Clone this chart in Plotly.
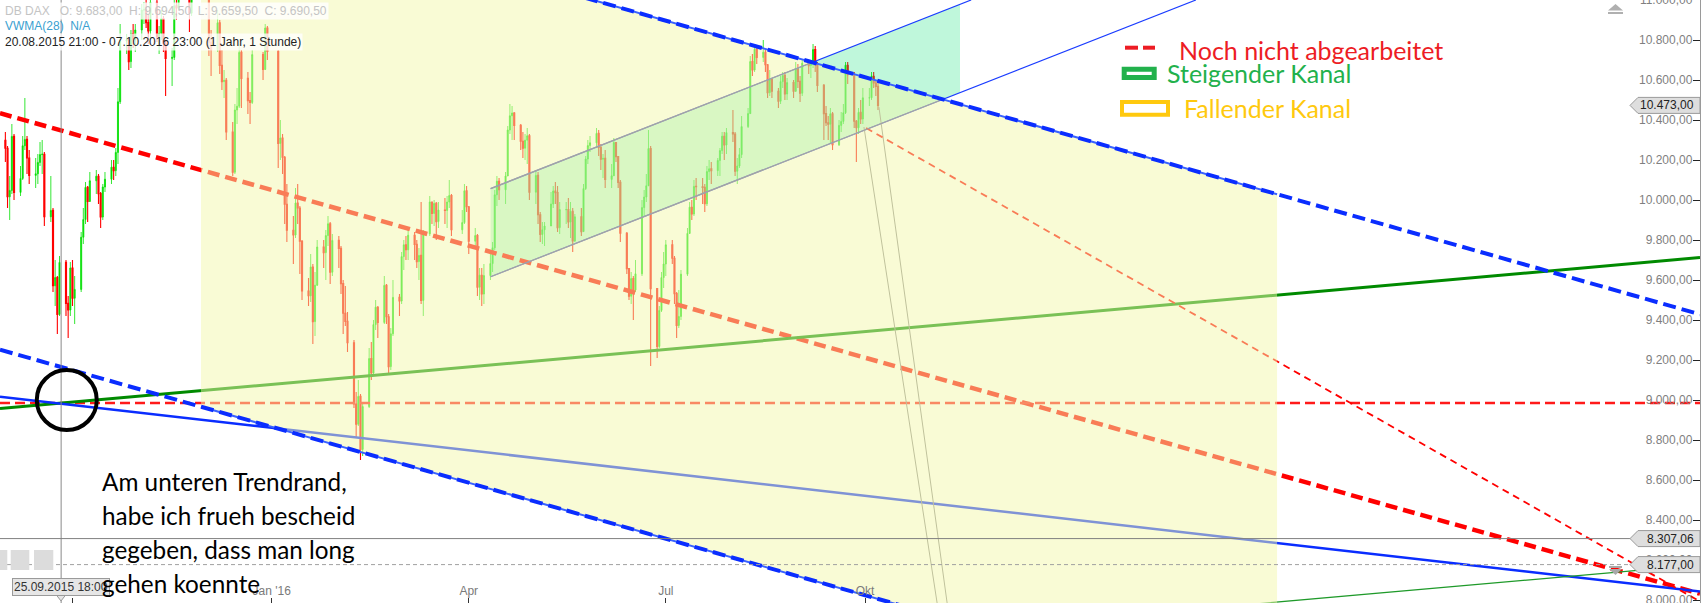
import plotly.graph_objects as go
import pandas as pd

# ------------------------------------------------------------------
# DATA  (daily bars of the DB DAX)
# ------------------------------------------------------------------
market_holidays = ["2015-12-24", "2015-12-25", "2015-12-31", "2016-01-01", "2016-03-25", "2016-03-28"]
first_open = 10200

close = [
    10298, 10259,
    10016, 10048, 10318, 10038, 10108, 10271, 10303, 10210, 10123, 10131, 10188, 10227, 10229, 9916, 9948, 9571, 9612, 9428, 9688, 9483, 9450, 9660,
    9509, 9553, 9814, 9902, 10063, 9993, 10096, 10119, 10032, 9915, 10065, 10104, 10164, 10147, 10238, 10491, 10795, 10801, 10692, 10832, 10801, 10850,
    10950, 10951, 10887, 10845, 10988, 10815, 10833, 10907, 10783, 10708, 10713, 10971, 10960, 11085, 11119, 11092, 10934, 11169, 11284, 11293, 11382,
    11261, 11190, 10789, 10752, 10886, 10673, 10592, 10598, 10340, 10139, 10450, 10469, 10738, 10608, 10497, 10488, 10727, 10653, 10860, 10743,
    10283, 10310, 10214, 9979, 9849, 9825, 9985, 9960, 9794, 9545, 9521, 9665, 9392, 9574, 9765, 9737, 9822, 9881, 9639, 9798,
    9758, 9582, 9434, 9393, 9286, 8980, 8879, 9018, 8753, 8967, 9207, 9135, 9377, 9464, 9388, 9573, 9416, 9167, 9331, 9513, 9495,
    9717, 9776, 9751, 9824, 9778, 9692, 9723, 9498, 9831, 9990, 9933, 9983, 9892, 9950, 9948, 9990, 10022, 9851, 9887, 10046, 9966,
    9794, 9822, 9564, 9624, 9530, 9622, 9682, 9761, 10026, 10094, 10051, 10120, 10350, 10421, 10435, 10373, 10294, 10259, 10299, 10321, 10039,
    10123, 9926, 9828, 9851, 9870, 9980, 10045, 10037, 9862, 9952, 9952, 9890, 9943, 9795, 9916, 9842, 10057, 10205, 10272, 10286, 10333, 10263,
    10204, 10208, 10103, 10121, 10287, 10217, 10088, 9834, 9657, 9519, 9607, 9550, 9631, 9962, 10015, 10071, 10257, 9557, 9268, 9448, 9612, 9680,
    9776, 9709, 9532, 9373, 9418, 9629, 9833, 9964, 9930, 10068, 10066, 10063, 9981, 10142, 10156, 10147, 10198, 10247, 10319, 10275, 10337,
    10330, 10144, 10170, 10227, 10367, 10432, 10692, 10650, 10754, 10713, 10739, 10676, 10537, 10603, 10544, 10494, 10592, 10623, 10530, 10587, 10544, 10657, 10593,
    10534, 10684, 10672, 10687, 10752, 10675, 10573, 10432, 10386, 10379, 10431, 10276, 10373, 10393, 10436, 10674, 10626, 10394, 10361, 10438, 10405, 10511,
    10511, 10619, 10585, 10568, 10473,
]
high = [
    10330, 10340,
    10270, 10120, 10380, 10330, 10170, 10320, 10510, 10320, 10250, 10210, 10230, 10290, 10300, 10240, 10120, 9960, 9700, 9620, 9720, 9700, 9520, 9690,
    9700, 9620, 9840, 9960, 10090, 10070, 10140, 10150, 10130, 10040, 10080, 10140, 10200, 10200, 10260, 10560, 10880, 10830, 10810, 10850, 10880, 10880,
    10980, 10990, 11020, 10930, 11060, 11000, 10870, 10950, 10920, 10800, 10760, 11000, 11000, 11120, 11150, 11140, 11100, 11200, 11300, 11320, 11400,
    11430, 11300, 11230, 10850, 10950, 10900, 10750, 10650, 10610, 10390, 10480, 10560, 10780, 10750, 10640, 10540, 10750, 10740, 10880, 10870,
    10750, 10400, 10330, 10220, 10080, 9920, 10060, 10080, 9970, 9800, 9610, 9730, 9680, 9640, 9800, 9800, 9850, 9920, 9890, 9830,
    9820, 9770, 9600, 9570, 9440, 9300, 9040, 9100, 9030, 8990, 9260, 9290, 9400, 9500, 9470, 9620, 9580, 9430, 9360, 9600, 9530,
    9740, 9800, 9820, 9850, 9840, 9800, 9760, 9990, 9850, 10020, 9990, 10000, 9990, 9990, 10010, 10020, 10100, 10030, 9950, 10080, 10070,
    9970, 9860, 9830, 9660, 9660, 9680, 9750, 9790, 10050, 10120, 10110, 10140, 10370, 10480, 10470, 10440, 10380, 10340, 10330, 10360, 10330,
    10150, 10140, 9940, 9890, 9890, 10040, 10070, 10090, 10070, 9990, 9990, 10010, 9990, 9960, 9930, 9960, 10080, 10220, 10300, 10320, 10360, 10350,
    10280, 10230, 10250, 10180, 10310, 10290, 10220, 10100, 9840, 9660, 9640, 9620, 9700, 10000, 10050, 10130, 10350, 10270, 9560, 9470, 9640, 9740,
    9800, 9800, 9720, 9540, 9550, 9650, 9860, 9990, 10000, 10100, 10110, 10110, 10080, 10170, 10200, 10190, 10210, 10260, 10340, 10340, 10360,
    10450, 10340, 10210, 10260, 10420, 10460, 10720, 10730, 10770, 10770, 10800, 10750, 10680, 10650, 10610, 10560, 10620, 10640, 10640, 10610, 10600, 10690, 10680,
    10620, 10700, 10700, 10700, 10780, 10770, 10690, 10580, 10470, 10420, 10460, 10440, 10400, 10440, 10480, 10690, 10690, 10640, 10400, 10460, 10500, 10560,
    10560, 10640, 10640, 10600, 10600,
]
low = [
    10120, 10190,
    9960, 9900, 10030, 10000, 10020, 10100, 10250, 10130, 10080, 10060, 10080, 10170, 10130, 9870, 9890, 9540, 9470, 9330, 9420, 9420, 9310, 9420,
    9470, 9380, 9540, 9780, 9880, 9890, 9990, 10030, 9980, 9860, 9900, 10040, 10080, 10100, 10120, 10180, 10480, 10730, 10650, 10660, 10760, 10740,
    10800, 10880, 10860, 10780, 10800, 10790, 10730, 10800, 10740, 10520, 10570, 10700, 10900, 10950, 11050, 11040, 10840, 10920, 11150, 11230, 11260,
    11220, 11120, 10720, 10620, 10740, 10630, 10550, 10510, 10300, 10120, 10130, 10380, 10460, 10460, 10430, 10380, 10480, 10600, 10650, 10700,
    10160, 10200, 10130, 9880, 9790, 9680, 9810, 9880, 9630, 9500, 9470, 9490, 9280, 9320, 9570, 9660, 9600, 9770, 9580, 9620,
    9660, 9530, 9330, 9370, 9240, 8960, 8810, 8870, 8700, 8720, 8960, 9100, 9120, 9350, 9310, 9380, 9380, 9130, 9150, 9320, 9420,
    9480, 9650, 9700, 9700, 9700, 9660, 9600, 9480, 9420, 9820, 9880, 9870, 9800, 9860, 9880, 9860, 9960, 9820, 9830, 9880, 9940,
    9730, 9760, 9520, 9500, 9470, 9480, 9600, 9640, 9750, 9970, 10000, 9980, 10120, 10330, 10300, 10300, 10250, 10210, 10200, 10180, 10000,
    9980, 9880, 9790, 9780, 9770, 9870, 9960, 9980, 9840, 9830, 9880, 9860, 9810, 9740, 9790, 9820, 9840, 10050, 10180, 10240, 10260, 10220,
    10150, 10110, 10060, 10060, 10120, 10190, 10060, 9790, 9630, 9500, 9480, 9400, 9540, 9620, 9920, 9990, 10070, 9170, 9210, 9260, 9440, 9560,
    9620, 9680, 9480, 9310, 9360, 9400, 9620, 9830, 9900, 9920, 10000, 9980, 9940, 9970, 10100, 10080, 10120, 10120, 10230, 10200, 10230,
    10290, 10120, 10080, 10160, 10210, 10360, 10430, 10620, 10640, 10680, 10690, 10640, 10510, 10520, 10510, 10460, 10480, 10560, 10500, 10500, 10510, 10540, 10560,
    10490, 10520, 10630, 10610, 10660, 10640, 10540, 10300, 10370, 10300, 10280, 10250, 10270, 10340, 10380, 10430, 10580, 10360, 10190, 10330, 10380, 10380,
    10470, 10500, 10560, 10520, 10450,
]

# drawn objects (date, value) anchors
falling_upper = [("2016-01-01", 11456), ("2017-01-01", 10331)]
falling_lower = [("2016-01-01", 8866), ("2017-01-01", 7741)]
fall_span = ["2015-11-29 08:00", "2017-04-09 07:00"]
support_green = [("2016-01-01", 9078), ("2017-01-01", 9430)]
support_green_thin = [("2017-03-04", 7955), ("2017-10-22", 8176)]
blue_solid = [("2016-01-01", 8861), ("2017-01-01", 8407)]
red_trend = [("2016-01-01", 10050), ("2017-01-01", 8930)]
red_level = 8985
red_target = [("2016-10-01 12:00", 10360), ("2017-10-22 00:00", 7990)]
gray_a = [("2016-09-30 12:00", 10365), ("2016-11-03 07:00", 7985)]
gray_b = [("2016-10-07 10:00", 10465), ("2016-11-07 22:00", 7985)]
rise_upper = [("2016-04-11 02:00", 10057), ("2016-11-19 00:00", 11000)]
rise_lower = [("2016-04-11 02:00", 9616), ("2017-03-02 19:00", 11000)]
rise_span = ["2016-04-11 02:00", "2016-11-13 21:00"]
rise_upper_gray_end = "2016-09-06 17:00"
rise_lower_gray_end = "2016-11-06 00:00"
circle_box = [("2015-09-14 12:00", 8850), ("2015-10-12 05:00", 9150)]
crosshair = "2015-09-25 18:00"
level_solid = 8307.06
level_dashed = 8177.00
last_price = 10473.00

x_range = ["2015-08-28 12:30", "2017-10-21 14:30"]
y_range = [7985, 11000]
x_tickvals = ["2015-10-01", "2016-01-01", "2016-04-01", "2016-07-01", "2016-10-01"]
x_ticktext = ["Okt", "Jan '16", "Apr", "Jul", "Okt"]

header_1 = "DB DAX\u00a0\u00a0\u00a0O: 9.683,00\u00a0\u00a0H: 9.694,50\u00a0\u00a0L: 9.659,50\u00a0\u00a0C: 9.690,50"
header_2 = "VWMA(28)\u00a0\u00a0N/A"
header_3 = "20.08.2015 21:00 - 07.10.2016 23:00 (1 Jahr, 1 Stunde)"
note_lines = ["Am unteren Trendrand,", "habe ich frueh bescheid", "gegeben, dass man long", "gehen koennte"]
legend_items = ["Noch nicht abgearbeitet", "Steigender Kanal", "Fallender Kanal"]

# ------------------------------------------------------------------
W, H, MR = 1702, 603, 2
PW = W - MR


def px(x):
    return x / PW


def py(y):
    return 1 - y / H


def de(v):
    s = f"{v:,.2f}"
    return s.replace(",", "X").replace(".", ",").replace("X", ".")


dates = pd.bdate_range("2015-08-28", "2016-10-07")
dates = dates[~dates.isin(pd.to_datetime(market_holidays))]
assert len(dates) == len(close) == len(high) == len(low), (len(dates), len(close), len(high), len(low))
open_ = [first_open] + close[:-1]


def line_xy(anchors, start, end):
    (d0, v0), (d1, v1) = anchors
    t0, t1 = pd.Timestamp(d0), pd.Timestamp(d1)
    k = (v1 - v0) / (t1 - t0).total_seconds()
    ts = [pd.Timestamp(start), pd.Timestamp(end)]
    return ts, [v0 + k * (t - t0).total_seconds() for t in ts]


fig = go.Figure()
fig.add_trace(go.Candlestick(
    x=dates, open=open_, high=high, low=low, close=close,
    increasing=dict(line=dict(color="#00e000", width=0.8), fillcolor="#00e000"),
    decreasing=dict(line=dict(color="#ff0000", width=1.1), fillcolor="#ff0000"),
    whiskerwidth=0, hoverinfo="skip", showlegend=False))


def add_line(anchors, start, end, color, width, dash=None):
    xs, ys = line_xy(anchors, start, end)
    fig.add_trace(go.Scatter(x=xs, y=ys, mode="lines", line=dict(color=color, width=width, dash=dash),
                             hoverinfo="skip", showlegend=False))


def add_poly(upper, lower, span, color):
    xu, yu = line_xy(upper, span[0], span[1])
    xl, yl = line_xy(lower, span[0], span[1])
    fig.add_trace(go.Scatter(x=xu + xl[::-1] + [xu[0]], y=yu + yl[::-1] + [yu[0]], mode="lines",
                             fill="toself", fillcolor=color, line=dict(width=0),
                             hoverinfo="skip", showlegend=False))


X0, X1 = x_range
# rising channel fill (below the yellow band)
add_poly(rise_upper, rise_lower, rise_span, "rgba(0,225,110,0.25)")
# lines under the band
add_line(red_trend, X0, X1, "#ff0000", 4.5, "12px,6px")
add_line([(X0, red_level), (X1, red_level)], X0, X1, "#ff1a1a", 2.5, "10px,5px")
add_line(support_green, X0, X1, "#008a00", 3)
add_line(blue_solid, X0, X1, "#0a2dff", 2.5)
add_line(rise_upper, rise_upper[0][0], rise_upper[1][0], "#1a3cff", 1.2)
add_line(rise_lower, rise_lower[0][0], rise_lower[1][0], "#1a3cff", 1.2)
add_line(gray_a, gray_a[0][0], gray_a[1][0], "#8c8c8c", 1)
add_line(gray_b, gray_b[0][0], gray_b[1][0], "#8c8c8c", 1)
add_line(red_target, red_target[0][0], red_target[1][0], "#ff0000", 1.8, "7px,5px")
add_line(support_green_thin, support_green_thin[0][0], support_green_thin[1][0], "#1f9a2a", 1.2)
# falling channel band
add_poly(falling_upper, falling_lower, fall_span, "rgba(243,247,171,0.5)")
# over the band
add_line(rise_upper, rise_upper[0][0], rise_upper_gray_end, "#a3a3a3", 1.2)
add_line(rise_lower, rise_lower[0][0], rise_lower_gray_end, "#a3a3a3", 1.2)
add_line(falling_upper, fall_span[0], fall_span[1], "#3a62ff", 2)
add_line(falling_lower, fall_span[0], fall_span[1], "#3a62ff", 2)
add_line(falling_upper, X0, X1, "#0a2dff", 4, "13px,6px")
add_line(falling_lower, X0, X1, "#0a2dff", 4, "13px,6px")

shapes = []
# crosshair
shapes.append(dict(type="line", xref="x", yref="paper", x0=crosshair, x1=crosshair, y0=0, y1=1,
                   line=dict(color="#8a8a8a", width=1)))
# price levels
shapes.append(dict(type="line", xref="paper", yref="y", x0=0, x1=1, y0=level_solid, y1=level_solid,
                   line=dict(color="#808080", width=1)))
shapes.append(dict(type="line", xref="paper", yref="y", x0=0, x1=1, y0=level_dashed, y1=level_dashed,
                   line=dict(color="#a0a0a0", width=1, dash="4px,3px")))
# circle
shapes.append(dict(type="circle", xref="x", yref="y", x0=circle_box[0][0], x1=circle_box[1][0],
                   y0=circle_box[0][1], y1=circle_box[1][1], line=dict(color="#000000", width=4)))
# price label boxes
for v in [last_price, level_solid, level_dashed]:
    path = (f"M {px(1630)},{v} L {px(1638)},{v + 40} L {px(1700)},{v + 40} "
            f"L {px(1700)},{v - 40} L {px(1638)},{v - 40} Z")
    shapes.append(dict(type="path", xref="paper", yref="y", path=path,
                       fillcolor="#dedede", line=dict(color="#9a9a9a", width=1)))
# legend icons
shapes.append(dict(type="line", xref="paper", yref="paper", x0=px(1125), x1=px(1138), y0=py(47.7), y1=py(47.7),
                   line=dict(color="#ed1c24", width=4)))
shapes.append(dict(type="line", xref="paper", yref="paper", x0=px(1143), x1=px(1155), y0=py(47.7), y1=py(47.7),
                   line=dict(color="#ed1c24", width=4)))
shapes.append(dict(type="rect", xref="paper", yref="paper", x0=px(1124.2), x1=px(1154.2), y0=py(77.5), y1=py(69.2),
                   fillcolor="white", line=dict(color="#22b14c", width=5)))
shapes.append(dict(type="rect", xref="paper", yref="paper", x0=px(1122), x1=px(1168), y0=py(114.7), y1=py(102),
                   fillcolor="white", line=dict(color="#ffc90e", width=4)))
# crosshair date label pointer
shapes.append(dict(type="path", xref="paper", yref="paper",
                   path=f"M {px(56)},{py(594.5)} L {px(66)},{py(594.5)} L {px(61)},{py(601)} Z",
                   fillcolor="#e6e6e6", line=dict(color="#9a9a9a", width=1)))
# small toolbar buttons bottom-left
for a, b in [(-3, 7.3), (10.7, 29.3), (34, 53.3)]:
    shapes.append(dict(type="rect", xref="paper", yref="paper", x0=px(a), x1=px(b), y0=py(570), y1=py(550),
                       fillcolor="#dcdcdc", line=dict(width=0)))
# scroll icons at right
shapes.append(dict(type="path", xref="paper", yref="paper",
                   path=f"M {px(1608)},{py(10.5)} L {px(1623)},{py(10.5)} L {px(1615.5)},{py(4)} Z",
                   fillcolor="#b0b0b0", line=dict(width=0)))
shapes.append(dict(type="rect", xref="paper", yref="paper", x0=px(1608), x1=px(1623), y0=py(14), y1=py(12),
                   fillcolor="#b0b0b0", line=dict(width=0)))
shapes.append(dict(type="rect", xref="paper", yref="paper", x0=px(1609), x1=px(1622), y0=py(568), y1=py(566),
                   fillcolor="#a8a8a8", line=dict(width=0)))
shapes.append(dict(type="path", xref="paper", yref="paper",
                   path=f"M {px(1609)},{py(569)} L {px(1622)},{py(569)} L {px(1615.5)},{py(575)} Z",
                   fillcolor="#a8a8a8", line=dict(width=0)))

ann = []
hdr_font = "Liberation Sans, Arial, sans-serif"
ann.append(dict(xref="paper", yref="paper", x=px(3), y=py(11.5), xanchor="left", yanchor="middle",
                text=header_1, showarrow=False, font=dict(family=hdr_font, size=12, color="#c4c4c4"),
                bgcolor="rgba(255,255,255,0.8)", borderpad=1))
ann.append(dict(xref="paper", yref="paper", x=px(3), y=py(26), xanchor="left", yanchor="middle",
                text=header_2, showarrow=False, font=dict(family=hdr_font, size=12, color="#3a9fd0")))
ann.append(dict(xref="paper", yref="paper", x=px(3), y=py(42.5), xanchor="left", yanchor="middle",
                text=header_3, showarrow=False, font=dict(family=hdr_font, size=12, color="#222222"),
                bgcolor="rgba(255,255,255,0.75)", borderpad=1))
# price labels
for v in [last_price, level_solid, level_dashed]:
    ann.append(dict(xref="paper", yref="y", x=px(1696), y=v, xanchor="right", yanchor="middle",
                    text=de(v), showarrow=False, font=dict(family=hdr_font, size=12, color="#222222")))
# crosshair date label
ann.append(dict(xref="paper", yref="paper", x=px(61), y=py(587), xanchor="center", yanchor="middle",
                text="25.09.2015 18:00", showarrow=False, font=dict(family=hdr_font, size=12, color="#333333"),
                bgcolor="#e6e6e6", bordercolor="#9a9a9a", borderwidth=1, borderpad=1))
# legend
note_font = "Lato, Open Sans, sans-serif"
for text, xl, yc, col in zip(legend_items, [1177, 1165, 1182], [50, 73.3, 108.3],
                             ["#ed1c24", "#22b14c", "#ffc90e"]):
    ann.append(dict(xref="paper", yref="paper", x=px(xl), y=py(yc), xanchor="left", yanchor="middle",
                    text=text, showarrow=False, font=dict(family=note_font, size=25, color=col)))
# note
for line, yc in zip(note_lines, [481, 515, 549, 583]):
    ann.append(dict(xref="paper", yref="paper", x=px(100), y=py(yc), xanchor="left", yanchor="middle",
                    text=line, showarrow=False, font=dict(family=note_font, size=24.3, color="#000000")))

fig.update_layout(
    width=W, height=H, autosize=False,
    margin=dict(l=0, r=MR, t=0, b=0, pad=0, autoexpand=False),
    plot_bgcolor="white", paper_bgcolor="white",
    separators=",.",
    showlegend=False,
    shapes=shapes, annotations=ann,
    xaxis=dict(type="date", range=x_range, tickmode="array", tickvals=x_tickvals, ticktext=x_ticktext,
               ticks="inside", ticklen=5, tickcolor="#333333", ticklabelposition="inside",
               tickfont=dict(family=hdr_font, size=12, color="#7a7a7a"),
               showgrid=False, zeroline=False, showline=False, rangeslider=dict(visible=False),
               fixedrange=True, ticklabeloverflow="allow", automargin=False),
    yaxis=dict(range=y_range, side="right", tickmode="linear", tick0=8000, dtick=200, tickformat=",.2f",
               ticks="inside", ticklen=7, tickcolor="#222222", ticklabelposition="inside",
               tickfont=dict(family=hdr_font, size=12, color="#7f7f7f"),
               showgrid=False, zeroline=False, showline=True, linecolor="#9a9a9a", linewidth=1,
               fixedrange=True, ticklabeloverflow="allow", automargin=False),
)

fig.write_html("out.html", config={"displayModeBar": False},
               post_script="document.body.style.margin='0';document.body.style.padding='0';"
                           "document.body.style.overflow='hidden';")
